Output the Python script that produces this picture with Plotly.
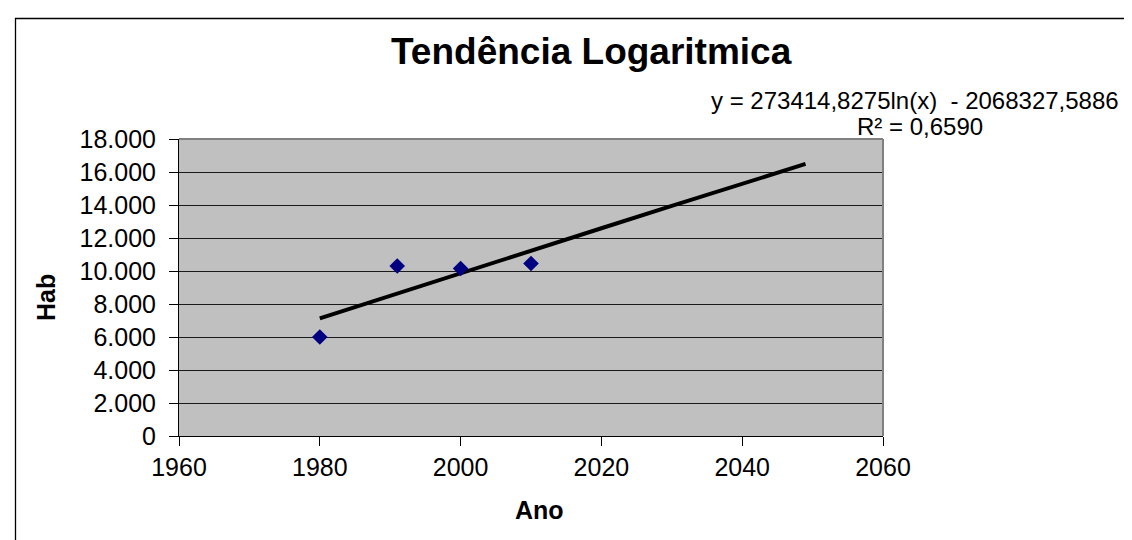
import numpy as np
import plotly.graph_objects as go

# data
anos = [1980, 1991, 2000, 2010]
hab = [6000, 10300, 10150, 10450]

# trendline shown on the chart: y = a ln(x) + b
TREND_A = 273414.8275
TREND_B = -2068327.5886
R2 = 0.6590
trend_anos = [1980, 1990, 2000, 2010, 2020, 2030, 2040, 2049]

title_text = "Tendência Logaritmica"
eq_text = "y = 273414,8275ln(x)  - 2068327,5886"
r2_text = "R² = 0,6590"

W, H = 1132, 540
L, R, T, B = 171, 875, 131, 428   # plot area in pixels


def px(x, y):
    """pixel position -> paper coords"""
    return (x - L) / (R - L), (B - y) / (B - T)


FONT = "Liberation Sans, Arial, sans-serif"

trend_y = [TREND_A * np.log(a) + TREND_B for a in trend_anos]

fig = go.Figure()

fig.add_trace(go.Scatter(
    x=trend_anos, y=trend_y,
    mode='lines',
    line=dict(color='black', width=4),
    hoverinfo='skip'
))

fig.add_trace(go.Scatter(
    x=anos, y=hab,
    mode='markers',
    marker=dict(symbol='diamond', size=12, color='#000080',
                line=dict(width=0)),
    name='Hab'
))

fig.update_layout(
    width=W, height=H, autosize=False,
    paper_bgcolor='white',
    plot_bgcolor='#C0C0C0',
    showlegend=False,
    separators=',.',
    margin=dict(l=L, r=W - R, t=T, b=H - B, pad=0),
    font=dict(family=FONT, color='black', size=25),
)

fig.update_xaxes(
    range=[1960, 2060], dtick=20, tick0=1960, tickformat='d',
    showgrid=False, zeroline=False,
    showline=True, linecolor='black', linewidth=1,
    ticks='outside', ticklen=9, tickcolor='black', tickwidth=1,
    tickfont=dict(size=25),
)
fig.update_yaxes(
    range=[0, 18000], dtick=2000, tick0=0, tickformat=',d',
    showgrid=True, gridcolor='#1a1a1a', gridwidth=1.3,
    zeroline=False,
    showline=True, linecolor='black', linewidth=1,
    ticks='outside', ticklen=9, tickcolor='black', tickwidth=1,
    tickfont=dict(size=25), ticklabelstandoff=8,
)

# gray plot-area border on top and right
fig.add_shape(type='line', xref='x domain', yref='y domain',
              x0=0, x1=1, y0=1, y1=1, line=dict(color='#808080', width=2))
fig.add_shape(type='line', xref='x domain', yref='y domain',
              x0=1, x1=1, y0=0, y1=1, line=dict(color='#808080', width=2))

# outer chart-area border (left and top visible)
x0, y0 = px(7.5, 10.5)
x1, y1 = px(W + 20, H + 20)
fig.add_shape(type='rect', xref='paper', yref='paper',
              x0=x0, y0=y0, x1=x1, y1=y1,
              line=dict(color='black', width=1.3))

annots = [
    (title_text, 583, 44, 37, True),
    (eq_text, 907, 93, 24, False),
    (r2_text, 912, 119, 24, False),
    ("Ano", 531, 502, 25, True),
]
for text, ax, ay, size, bold in annots:
    xp, yp = px(ax, ay)
    fig.add_annotation(
        text=f"<b>{text}</b>" if bold else text,
        x=xp, y=yp, xref='paper', yref='paper',
        xanchor='center', yanchor='middle', showarrow=False,
        font=dict(family=FONT, size=size, color='black'),
    )

xp, yp = px(38, 290)
fig.add_annotation(
    text="<b>Hab</b>", x=xp, y=yp, xref='paper', yref='paper',
    xanchor='center', yanchor='middle', showarrow=False, textangle=-90,
    font=dict(family=FONT, size=25, color='black'),
)

fig.write_html("out.html")
